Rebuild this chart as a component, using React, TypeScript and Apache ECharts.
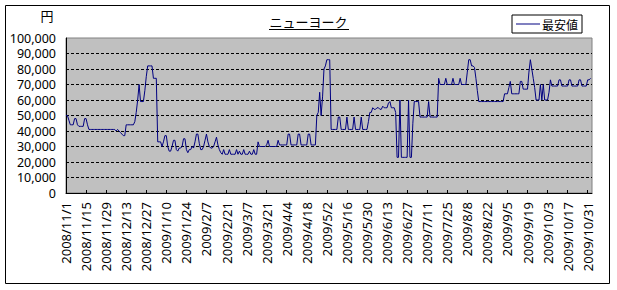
import React, { useEffect, useRef } from 'react';
import * as echarts from 'echarts';

// Daily lowest fares (yen), 2008/11/1 ... 2009/11/2
const nov2008 = [50000, 50000, 47000, 44000, 44000, 44000, 48000, 48000, 44000, 43000, 43000, 43000, 43000, 48000, 48000, 44000, 41000, 41000, 41000, 41000, 41000, 41000, 41000, 41000, 41000, 41000, 41000, 41000, 41000, 41000];
const dec2008 = [41000, 41000, 41000, 41000, 41000, 40000, 41000, 40000, 39000, 38000, 37000, 37000, 44000, 44000, 44000, 44000, 44000, 44000, 46000, 52000, 60000, 70000, 59000, 59000, 59000, 66000, 75000, 82000, 82000, 82000, 82000];
const jan2009 = [74000, 74000, 74000, 33000, 33000, 33000, 30000, 33000, 37000, 37000, 30000, 27000, 27000, 30000, 34000, 34000, 28000, 27000, 29000, 29000, 30000, 35000, 35000, 28000, 26000, 28000, 28000, 30000, 29000, 33000, 38000];
const feb2009 = [38000, 32000, 28000, 28000, 30000, 34000, 38000, 33000, 30000, 29000, 29000, 30000, 33000, 36000, 31000, 28000, 26000, 25000, 28000, 25000, 25000, 25000, 28000, 25000, 25000, 25000, 25000, 28000];
const mar2009 = [25000, 27000, 25000, 25000, 28000, 25000, 25000, 25000, 27000, 25000, 25000, 28000, 25000, 25000, 33000, 30000, 30000, 30000, 30000, 30000, 31000, 34000, 30000, 30000, 30000, 30000, 30000, 30000, 34000, 31000, 31000];
const apr2009 = [31000, 31000, 31000, 31000, 38000, 38000, 31000, 31000, 31000, 31000, 31000, 38000, 38000, 31000, 31000, 31000, 31000, 31000, 38000, 38000, 31000, 31000, 31000, 31000, 50000, 52000, 65000, 50000, 62000, 80000];
const may2009 = [82000, 86000, 86000, 86000, 41000, 41000, 41000, 41000, 41000, 49000, 49000, 41000, 41000, 41000, 41000, 49000, 41000, 41000, 41000, 41000, 49000, 41000, 41000, 41000, 41000, 49000, 41000, 41000, 41000, 41000, 46000];
const jun2009 = [52000, 52000, 55000, 54000, 54000, 55000, 55000, 54000, 54000, 56000, 55000, 55000, 55000, 58000, 59000, 55000, 55000, 55000, 52000, 23000, 23000, 60000, 23000, 23000, 23000, 23000, 23000, 60000, 23000, 23000];
const jul2009 = [45000, 59000, 59000, 59000, 59000, 49000, 49000, 49000, 49000, 49000, 49000, 59000, 49000, 49000, 49000, 49000, 49000, 49000, 74000, 70000, 70000, 70000, 70000, 74000, 70000, 70000, 70000, 70000, 74000, 70000, 70000];
const aug2009 = [70000, 70000, 74000, 70000, 70000, 70000, 70000, 78000, 86000, 86000, 82000, 82000, 81000, 74000, 66000, 59000, 59000, 59000, 59000, 59000, 59000, 59000, 59000, 59000, 59000, 59000, 59000, 59000, 59000, 59000, 59000];
const sep2009 = [59000, 59000, 64000, 64000, 64000, 68000, 72000, 64000, 64000, 64000, 64000, 64000, 64000, 72000, 72000, 67000, 67000, 67000, 67000, 78000, 86000, 80000, 74000, 68000, 60000, 60000, 60000, 70000, 60000, 70000];
const oct2009 = [60000, 60000, 60000, 65000, 73000, 69000, 69000, 69000, 69000, 69000, 73000, 73000, 69000, 69000, 69000, 69000, 69000, 73000, 73000, 69000, 69000, 69000, 69000, 69000, 73000, 73000, 69000, 69000, 69000, 69000, 73000];
const nov2009 = [73000, 74000];

const prices = [
  ...nov2008, ...dec2008, ...jan2009, ...feb2009, ...mar2009, ...apr2009,
  ...may2009, ...jun2009, ...jul2009, ...aug2009, ...sep2009, ...oct2009, ...nov2009,
];

const startDate = [2008, 10, 1]; // 2008/11/1 (month 0-based)
const dayCount = 368;
const tickEvery = 14;
const lastTickIndex = 364; // 2009/10/31

const categories: string[] = [];
for (let i = 0; i < dayCount; i++) {
  const d = new Date(Date.UTC(startDate[0], startDate[1], startDate[2] + i));
  categories.push(`${d.getUTCFullYear()}/${d.getUTCMonth() + 1}/${d.getUTCDate()}`);
}

const showTick = (index: number) => index % tickEvery === 0 && index <= lastTickIndex;

export default function App() {
  const ref = useRef<HTMLDivElement>(null);
  useEffect(() => {
    const chart = echarts.init(ref.current!, null, { renderer: 'svg' });
    chart.setOption({
      animation: false,
      backgroundColor: '#ffffff',
      title: {
        text: 'ニューヨーク',
        left: 'center',
        top: 9,
        textStyle: { fontSize: 13, fontWeight: 'normal', color: '#000', fontFamily: 'Noto Sans CJK JP', lineHeight: 14 },
      },
      legend: {
        data: [{ name: '最安値', icon: 'rect' }],
        left: 512,
        top: 15,
        padding: [2, 4, 2, 4],
        borderColor: '#000',
        borderWidth: 1,
        itemWidth: 24,
        itemHeight: 1,
        textStyle: { fontSize: 12, color: '#000', fontFamily: 'Noto Sans CJK JP', lineHeight: 14, padding: [0, 0, 0, -3] },
      },
      grid: {
        left: 66,
        right: 25,
        top: 38,
        bottom: 97,
        show: true,
        backgroundColor: '#C0C0C0',
        borderColor: '#808080',
        borderWidth: 1,
      },
      xAxis: {
        type: 'category',
        data: categories,
        boundaryGap: false,
        axisLine: { lineStyle: { color: '#000', width: 1 } },
        axisTick: { inside: true, length: 3, interval: showTick, lineStyle: { color: '#000' } },
        axisLabel: {
          interval: showTick,
          rotate: 90,
          margin: 9,
          fontSize: 13,
          lineHeight: 14,
          color: '#000',
          fontFamily: 'Noto Sans',
        },
        splitLine: { show: false },
      },
      yAxis: {
        type: 'value',
        min: 0,
        max: 100000,
        interval: 10000,
        axisLine: { show: true, lineStyle: { color: '#000', width: 1 } },
        axisTick: { show: false },
        axisLabel: {
          margin: 10,
          fontSize: 12.5,
          lineHeight: 13,
          color: '#000',
          fontFamily: 'Noto Sans',
          formatter: (v: number) => v.toLocaleString('en-US'),
        },
        splitLine: {
          show: true,
          showMinLine: false,
          showMaxLine: false,
          lineStyle: { color: '#000', type: [3, 2], width: 1 },
        },
      },
      series: [
        {
          name: '最安値',
          type: 'line',
          data: prices,
          symbol: 'none',
          lineStyle: { color: '#000080', width: 1 },
          itemStyle: { color: '#000080' },
        },
      ],
      graphic: [
        {
          type: 'rect',
          silent: true,
          shape: { x: 5.5, y: 5.5, width: 604, height: 278 },
          style: { fill: 'none', stroke: '#000', lineWidth: 1 },
        },
        {
          type: 'text',
          x: 47,
          y: 15,
          style: { text: '円', fontSize: 13, fill: '#000', align: 'center', verticalAlign: 'middle', fontFamily: 'Noto Sans CJK JP' },
        },
        {
          type: 'line',
          silent: true,
          shape: { x1: 269, y1: 29.5, x2: 349, y2: 29.5 },
          style: { stroke: '#000', lineWidth: 1 },
        },
      ],
    });
    return () => chart.dispose();
  }, []);
  return (
    <div
      ref={ref}
      style={{ position: 'fixed', left: 0, top: 0, width: 617, height: 290, background: '#fff' }}
    />
  );
}
